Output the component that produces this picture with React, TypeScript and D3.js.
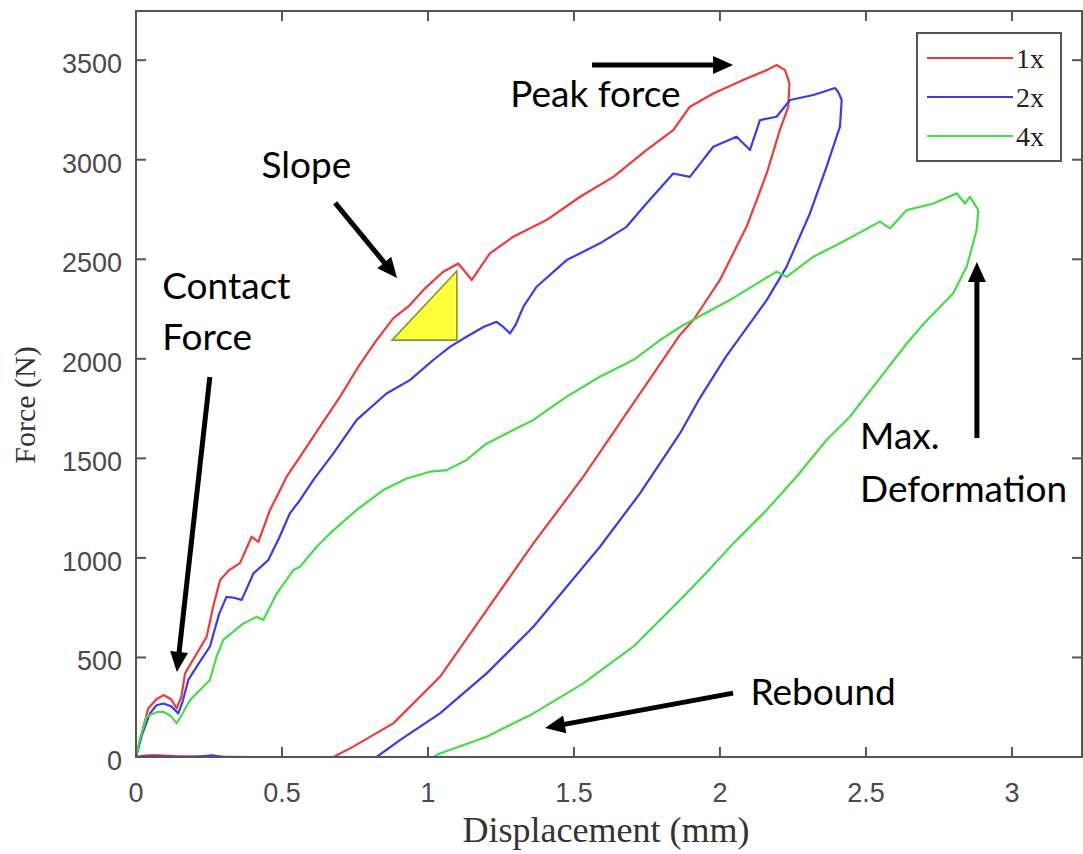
import React from "react";
import * as d3 from "d3";

// ---------- data ----------
const seriesNames = ["1x", "2x", "4x"];
const seriesColors = ["#f03a3a", "#3a3af0", "#44dd44"];

const redX = [0,0.02,0.042,0.07,0.094,0.12,0.139,0.155,0.168,0.2,0.242,0.265,0.288,0.32,0.356,0.396,0.419,0.459,0.516,0.573,0.63,0.699,0.761,0.824,0.881,0.938,0.99,1.052,1.104,1.15,1.212,1.292,1.406,1.521,1.635,1.749,1.84,1.897,1.977,2.091,2.16,2.194,2.223,2.238,
  2.234,2.205,2.16,2.091,2.0,1.909,1.863,1.703,1.532,1.361,1.201,1.041,0.881,0.744,0.676,0.4,0.13,0.06,0.02,0];
const redY = [0,120,245,290,311,290,245,300,420,500,604,760,889,940,974,1106,1081,1241,1408,1533,1659,1810,1959,2094,2203,2270,2354,2437,2479,2396,2530,2613,2697,2814,2914,3049,3149,3266,3333,3408,3450,3476,3450,3383,
  3266,3149,2931,2663,2396,2195,2120,1776,1408,1073,738,403,169,52,0,0,4,10,6,0];

const blueX = [0,0.02,0.048,0.07,0.094,0.12,0.145,0.16,0.179,0.215,0.253,0.285,0.31,0.335,0.362,0.402,0.453,0.49,0.527,0.562,0.607,0.676,0.756,0.858,0.938,1.018,1.075,1.132,1.19,1.235,1.258,1.281,1.3,1.327,1.372,1.475,1.589,1.68,1.749,1.84,1.897,1.977,2.057,2.103,2.137,2.194,2.24,2.32,2.394,2.405,2.417,
  2.411,2.365,2.308,2.228,2.16,2.02,1.93,1.863,1.726,1.589,1.475,1.361,1.201,1.041,0.904,0.824,0.5,0.3,0.26,0.2,0.05,0];
const blueY = [0,110,219,260,269,255,219,280,387,470,554,720,804,800,789,922,989,1100,1224,1291,1391,1525,1693,1826,1893,1994,2060,2111,2160,2186,2160,2128,2170,2262,2362,2496,2580,2663,2781,2931,2914,3065,3115,3049,3199,3216,3300,3325,3360,3340,3300,
  3166,2964,2730,2462,2295,2010,1800,1625,1324,1056,855,654,420,219,85,0,0,0,8,0,3,0];

const greenX = [0,0.015,0.037,0.07,0.094,0.12,0.139,0.16,0.185,0.253,0.275,0.299,0.368,0.413,0.436,0.482,0.539,0.562,0.619,0.664,0.756,0.847,0.927,1.007,1.064,1.132,1.201,1.292,1.361,1.475,1.589,1.703,1.795,1.863,2.034,2.194,2.228,2.32,2.411,2.548,2.582,2.64,2.731,2.811,2.839,2.856,2.885,
  2.879,2.845,2.799,2.7,2.64,2.525,2.445,2.365,2.262,2.16,2.046,1.95,1.863,1.703,1.532,1.361,1.201,1.041,1.018,0.5,0.1,0];
const greenY = [0,100,203,225,228,205,169,220,286,387,500,588,671,704,688,821,939,956,1056,1123,1241,1341,1399,1433,1441,1492,1575,1642,1693,1810,1910,1994,2094,2160,2295,2438,2412,2513,2580,2689,2655,2747,2780,2831,2780,2813,2747,
  2647,2462,2329,2180,2077,1860,1709,1592,1408,1241,1073,920,789,554,370,219,102,18,0,0,0,0];

const xTicks = [0, 0.5, 1, 1.5, 2, 2.5, 3];
const xTickLabels = ["0", "0.5", "1", "1.5", "2", "2.5", "3"];
const yTicks = [0, 500, 1000, 1500, 2000, 2500, 3000, 3500];
const yTickLabels = ["0", "500", "1000", "1500", "2000", "2500", "3000", "3500"];

// slope triangle (data coords)
const triX = [0.877, 1.099, 1.099];
const triY = [2094, 2441, 2094];

// annotations (data coords)
const arrows = [
  { x1: 1.562, y1: 3476, x2: 2.045, y2: 3476 }, // peak force
  { x1: 0.682, y1: 2783, x2: 0.894, y2: 2406 }, // slope
  { x1: 0.253, y1: 1909, x2: 0.14, y2: 427 }, // contact
  { x1: 2.88, y1: 1602, x2: 2.88, y2: 2486 }, // max deformation
  { x1: 2.045, y1: 321, x2: 1.401, y2: 146 }, // rebound
];
const labels = [
  { text: "Peak force", x: 1.282, y: 3265 },
  { text: "Slope", x: 0.43, y: 2908 },
  { text: "Contact", x: 0.09, y: 2300 },
  { text: "Force", x: 0.09, y: 2044 },
  { text: "Max.", x: 2.48, y: 1547 },
  { text: "Deformation", x: 2.48, y: 1281 },
  { text: "Rebound", x: 2.105, y: 261 },
];

// ---------- layout ----------
const W = 1083, H = 854;
const L = 136, R = 1082, T = 11, B = 757;

export default function App() {
  const x = d3.scaleLinear().domain([0, 3.24]).range([L, R]);
  const y = d3.scaleLinear().domain([0, 3747]).range([B, T]);
  const line = d3.line<[number, number]>().x(d => x(d[0])).y(d => y(d[1]));
  const series = [
    redX.map((v, i) => [v, redY[i]] as [number, number]),
    blueX.map((v, i) => [v, blueY[i]] as [number, number]),
    greenX.map((v, i) => [v, greenY[i]] as [number, number]),
  ];
  const tri = triX.map((v, i) => [x(v), y(triY[i])].join(",")).join(" ");
  const axisColor = "#555";
  const tickLen = 10;

  const arrowEl = (a: any, i: number) => {
    const x1 = x(a.x1), y1 = y(a.y1), x2 = x(a.x2), y2 = y(a.y2);
    const dx = x2 - x1, dy = y2 - y1;
    const len = Math.hypot(dx, dy);
    const ux = dx / len, uy = dy / len;
    const hl = 20, hw = 9;
    const bx = x2 - ux * hl, by = y2 - uy * hl;
    const p = [
      [x2, y2],
      [bx - uy * hw, by + ux * hw],
      [bx + uy * hw, by - ux * hw],
    ].map(q => q.join(",")).join(" ");
    return (
      <g key={"a" + i}>
        <line x1={x1} y1={y1} x2={bx + ux * 2} y2={by + uy * 2} stroke="#000" strokeWidth={5} />
        <polygon points={p} fill="#000" />
      </g>
    );
  };

  return (
    <svg width={W} height={H} style={{ position: "absolute", left: 0, top: 0, background: "#fff" }}>
      <rect x={0} y={0} width={W} height={H} fill="#fff" />
      <defs>
        <clipPath id="clip"><rect x={L} y={T} width={R - L} height={B - T} /></clipPath>
      </defs>
      {/* curves */}
      <g clipPath="url(#clip)">
        {series.map((s, i) => (
          <path key={i} d={line(s) || ""} fill="none" stroke={seriesColors[i]} strokeWidth={2.2} strokeLinejoin="round" />
        ))}
      </g>
      {/* slope triangle */}
      <polygon points={tri} fill="#ffff3a" stroke="#7f9a3a" strokeWidth={1.6} />
      {/* axes box */}
      <rect x={L} y={T} width={R - L} height={B - T} fill="none" stroke={axisColor} strokeWidth={2} />
      {xTicks.map((t, i) => (
        <g key={"xt" + i}>
          <line x1={x(t)} x2={x(t)} y1={B} y2={B - tickLen} stroke={axisColor} strokeWidth={2} />
          <line x1={x(t)} x2={x(t)} y1={T} y2={T + tickLen} stroke={axisColor} strokeWidth={2} />
          <text x={x(t)} y={802} textAnchor="middle" fontFamily="Liberation Sans, Arial" fontSize={27} fill="#4a4a4a">{xTickLabels[i]}</text>
        </g>
      ))}
      {yTicks.map((t, i) => (
        <g key={"yt" + i}>
          <line x1={L} x2={L + tickLen} y1={y(t)} y2={y(t)} stroke={axisColor} strokeWidth={2} />
          <line x1={R} x2={R - tickLen} y1={y(t)} y2={y(t)} stroke={axisColor} strokeWidth={2} />
          <text x={122} y={y(t) + 13} textAnchor="end" fontFamily="Liberation Sans, Arial" fontSize={27} fill="#4a4a4a">{yTickLabels[i]}</text>
        </g>
      ))}
      <text x={606} y={842} textAnchor="middle" fontFamily="Liberation Serif, Times New Roman" fontSize={36} fill="#333">Displacement (mm)</text>
      <text transform={`translate(35,405) rotate(-90)`} textAnchor="middle" fontFamily="Liberation Serif, Times New Roman" fontSize={30} fill="#333">Force (N)</text>
      {/* legend */}
      <rect x={917} y={33} width={144} height={128} fill="#fff" stroke={axisColor} strokeWidth={2} />
      {seriesNames.map((n, i) => (
        <g key={"lg" + i}>
          <line x1={927} x2={1013} y1={58 + i * 39} y2={58 + i * 39} stroke={seriesColors[i]} strokeWidth={2.2} />
          <text x={1016} y={58 + i * 39 + 10} fontFamily="Liberation Serif, Times New Roman" fontSize={28} fill="#222">{n}</text>
        </g>
      ))}
      {/* annotations */}
      {arrows.map(arrowEl)}
      {labels.map((l, i) => (
        <text key={"l" + i} x={x(l.x)} y={y(l.y)} fontFamily="Lato, Carlito, Calibri, sans-serif" fontSize={37} fill="#000">{l.text}</text>
      ))}
    </svg>
  );
}
